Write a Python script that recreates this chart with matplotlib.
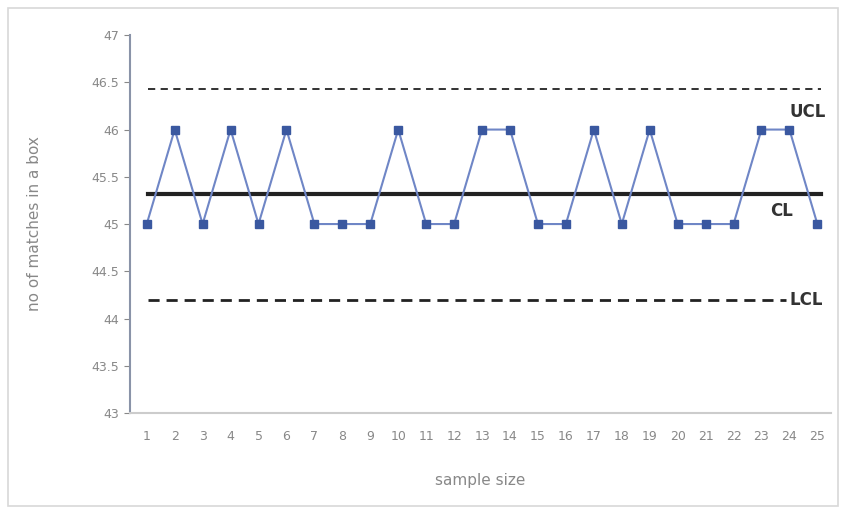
import matplotlib.pyplot as plt
from matplotlib.patches import Rectangle

samples = list(range(1, 26))
matches = [45, 46, 45, 46, 45, 46, 45, 45, 45, 46, 45, 45, 46, 46, 45,
           45, 46, 45, 46, 45, 45, 45, 46, 46, 45]
ucl = 46.43
cl = 45.32
lcl = 44.2
yticks = [43, 43.5, 44, 44.5, 45, 45.5, 46, 46.5, 47]

fig = plt.figure(figsize=(8.44, 5.16), dpi=100)
ax = fig.add_axes([0.154, 0.1996, 0.831, 0.7324])

# outer chart frame like excel
fig.patches.append(Rectangle((0.01, 0.02), 0.983, 0.965, transform=fig.transFigure,
                             fill=False, edgecolor='#d8d8d8', lw=1.2))

ax.plot(samples, matches, color='#6f86c6', lw=1.5, marker='s', markersize=6,
        markerfacecolor='#3a58a0', markeredgecolor='#3a58a0', zorder=4)

ax.axhline(ucl, xmin=0.025, xmax=0.985, color='#222222', ls=(0, (4, 3)), lw=1.3)
ax.axhline(cl, xmin=0.025, xmax=0.985, color='#222222', ls='-', lw=3)
ax.axhline(lcl, xmin=0.025, xmax=0.935, color='#222222', ls=(0, (4, 2.5)), lw=2)

ax.text(24.0, ucl - 0.3, 'UCL', fontsize=12, color='#333333', fontweight='bold')
ax.text(23.3, cl - 0.24, 'CL', fontsize=12, color='#333333', fontweight='bold')
ax.text(24.0, lcl - 0.06, 'LCL', fontsize=12, color='#333333', fontweight='bold')

ax.set_xlim(0.4, 25.5)
ax.set_ylim(43, 47)
ax.set_yticks(yticks)
ax.set_yticklabels(['43', '43.5', '44', '44.5', '45', '45.5', '46', '46.5', '47'])
ax.set_xticks(samples)
ax.tick_params(axis='both', labelsize=9, colors='#888888', length=4)
ax.tick_params(axis='x', length=0, pad=12)

for s in ['top', 'right']:
    ax.spines[s].set_visible(False)
ax.spines['left'].set_color('#8a93a8')
ax.spines['left'].set_linewidth(1.5)
ax.spines['bottom'].set_color('#cccccc')
ax.spines['bottom'].set_linewidth(1.5)

ax.set_xlabel('sample size', fontsize=11, color='#888888', labelpad=22)
ax.set_ylabel('no of matches in a box', fontsize=11, color='#888888', labelpad=36)

fig.savefig('out.png', dpi=100)
